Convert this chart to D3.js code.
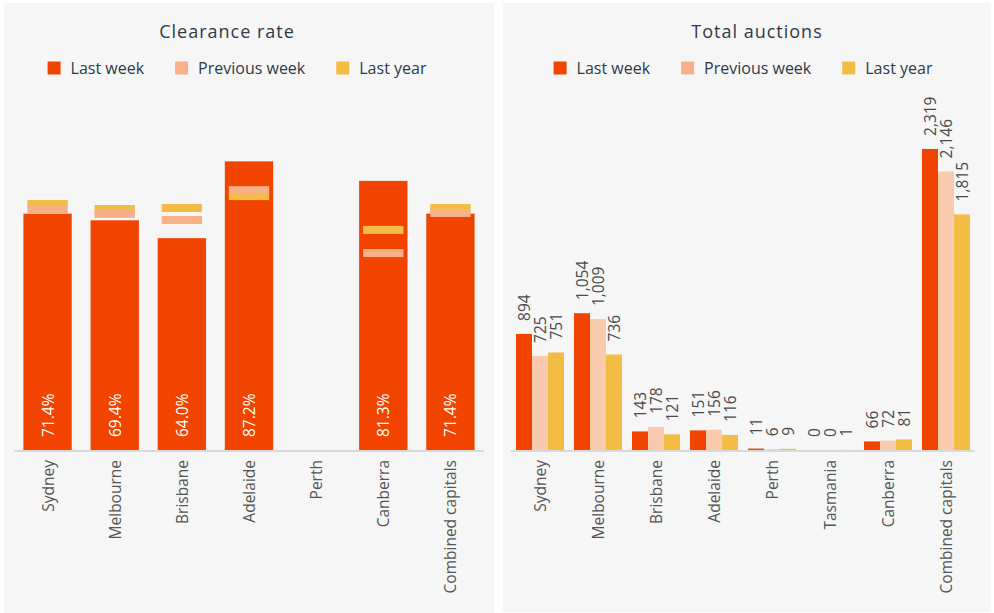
<!DOCTYPE html>
<html>
<head>
<meta charset="utf-8">
<script src="https://cdn.jsdelivr.net/npm/d3@7.9.0/dist/d3.min.js"></script>
<style>
  body { margin: 0; background: #fff; }
  svg { display: block; }
  .title { font-family: "Open Sans", sans-serif; font-size: 18px; letter-spacing: 1px; fill: #2e3a48; }
  .legend text { font-family: "Open Sans", sans-serif; font-size: 16px; fill: #2e3a48; }
  .cat { font-family: "Open Sans", sans-serif; font-size: 15.5px; fill: #555; }
  .val { font-family: "Open Sans", sans-serif; font-size: 15.5px; fill: #4a4a4a; }
  .inbar { font-family: "Open Sans", sans-serif; font-size: 15.5px; fill: #fff; }
</style>
</head>
<body>
<svg id="chart" width="994" height="613"></svg>
<script>
// clearance rate (%)
const clrCities = ['Sydney', 'Melbourne', 'Brisbane', 'Adelaide', 'Perth', 'Canberra', 'Combined capitals'];
const clrLastWeek = [71.4, 69.4, 64.0, 87.2, null, 81.3, 71.4];
const clrPrevWeek = [72.8, 71.3, 69.5, 78.5, null, 59.5, 71.6];
const clrLastYear = [74.3, 72.8, 73.1, 76.7, null, 66.5, 73.1];

// total auctions
const aucCities = ['Sydney', 'Melbourne', 'Brisbane', 'Adelaide', 'Perth', 'Tasmania', 'Canberra', 'Combined capitals'];
const aucLastWeek = [894, 1054, 143, 151, 11, 0, 66, 2319];
const aucPrevWeek = [725, 1009, 178, 156, 6, 0, 72, 2146];
const aucLastYear = [751, 736, 121, 116, 9, 1, 81, 1815];

const seriesNames = ['Last week', 'Previous week', 'Last year'];

const RED = '#f04400';
const PINK = '#f8b088';
const PINK2 = '#f8caae';
const YELLOW = '#f3bc44';

const svg = d3.select('#chart');
const fmt = d3.format(',');

function panel(x, w, h) {
  const g = svg.append('g');
  g.append('rect').attr('x', x).attr('y', 3).attr('width', w).attr('height', h).attr('fill', '#f6f6f6');
  return g;
}

function legend(g, cx, colors) {
  const lg = g.append('g').attr('class', 'legend');
  let pos = 0;
  seriesNames.forEach((name, i) => {
    const item = lg.append('g').attr('transform', `translate(${pos},0)`);
    item.append('rect').attr('x', 0).attr('y', -6.5).attr('width', 13).attr('height', 13).attr('fill', colors[i]);
    const t = item.append('text').attr('x', 23).attr('y', 0).attr('dominant-baseline', 'central').text(name);
    pos += 23 + t.node().getComputedTextLength() + 31;
  });
  const total = pos - 31;
  lg.attr('transform', `translate(${cx - total / 2},68)`);
}

function categoryLabels(g, x, cats) {
  cats.forEach(c => {
    const cx = x(c) + x.bandwidth() / 2;
    g.append('text').attr('class', 'cat')
      .attr('transform', `translate(${cx},460) rotate(-90)`)
      .attr('text-anchor', 'end')
      .attr('dominant-baseline', 'central')
      .text(c);
  });
}

// ---- left: clearance rate
const left = panel(4, 490, 610);
left.append('text').attr('class', 'title').attr('x', 227).attr('y', 31)
  .attr('text-anchor', 'middle').attr('dominant-baseline', 'central').text('Clearance rate');
legend(left, 237, [RED, PINK, YELLOW]);

const x1 = d3.scaleBand().domain(clrCities).range([14, 484]).paddingInner(0.28).paddingOuter(0.14);
const y1 = d3.scaleLinear().domain([0, 100]).range([450, 119]);

clrCities.forEach((c, i) => {
  if (clrLastWeek[i] == null) return;
  left.append('rect').attr('x', x1(c)).attr('y', y1(clrLastWeek[i]))
    .attr('width', x1.bandwidth()).attr('height', y1(0) - y1(clrLastWeek[i])).attr('fill', RED);
});
[[clrLastYear, YELLOW], [clrPrevWeek, PINK]].forEach(([vals, col]) => {
  clrCities.forEach((c, i) => {
    if (vals[i] == null) return;
    left.append('rect').attr('x', x1(c) + 4).attr('y', y1(vals[i]) - 4)
      .attr('width', x1.bandwidth() - 8).attr('height', 8).attr('fill', col);
  });
});
clrCities.forEach((c, i) => {
  if (clrLastWeek[i] == null) return;
  left.append('text').attr('class', 'inbar')
    .attr('transform', `translate(${x1(c) + x1.bandwidth() / 2},437) rotate(-90)`)
    .attr('dominant-baseline', 'central')
    .text(clrLastWeek[i].toFixed(1) + '%');
});
left.append('line').attr('x1', 14).attr('x2', 484).attr('y1', 451).attr('y2', 451)
  .attr('stroke', '#d9d9d9').attr('stroke-width', 2);
categoryLabels(left, x1, clrCities);

// ---- right: total auctions
const right = panel(503, 488, 609);
right.append('text').attr('class', 'title').attr('x', 757).attr('y', 31)
  .attr('text-anchor', 'middle').attr('dominant-baseline', 'central').text('Total auctions');
legend(right, 743, [RED, PINK, YELLOW]);

const x2 = d3.scaleBand().domain(aucCities).range([511, 975]).paddingInner(0.172).paddingOuter(0.086);
const xs = d3.scaleBand().domain(seriesNames).range([0, x2.bandwidth()]);
const y2 = d3.scaleLinear().domain([0, 2550]).range([450, 119]);

const aucSeries = [aucLastWeek, aucPrevWeek, aucLastYear];
const aucColors = [RED, PINK2, YELLOW];
aucSeries.forEach((vals, s) => {
  aucCities.forEach((c, i) => {
    const bx = x2(c) + xs(seriesNames[s]);
    right.append('rect').attr('x', bx).attr('y', y2(vals[i]))
      .attr('width', xs.bandwidth()).attr('height', y2(0) - y2(vals[i])).attr('fill', aucColors[s]);
    right.append('text').attr('class', 'val')
      .attr('transform', `translate(${bx + xs.bandwidth() / 2},${y2(vals[i]) - 13}) rotate(-90)`)
      .attr('dominant-baseline', 'central')
      .text(fmt(vals[i]));
  });
});
right.append('line').attr('x1', 511).attr('x2', 975).attr('y1', 451).attr('y2', 451)
  .attr('stroke', '#d9d9d9').attr('stroke-width', 2);
categoryLabels(right, x2, aucCities);
</script>
</body>
</html>
